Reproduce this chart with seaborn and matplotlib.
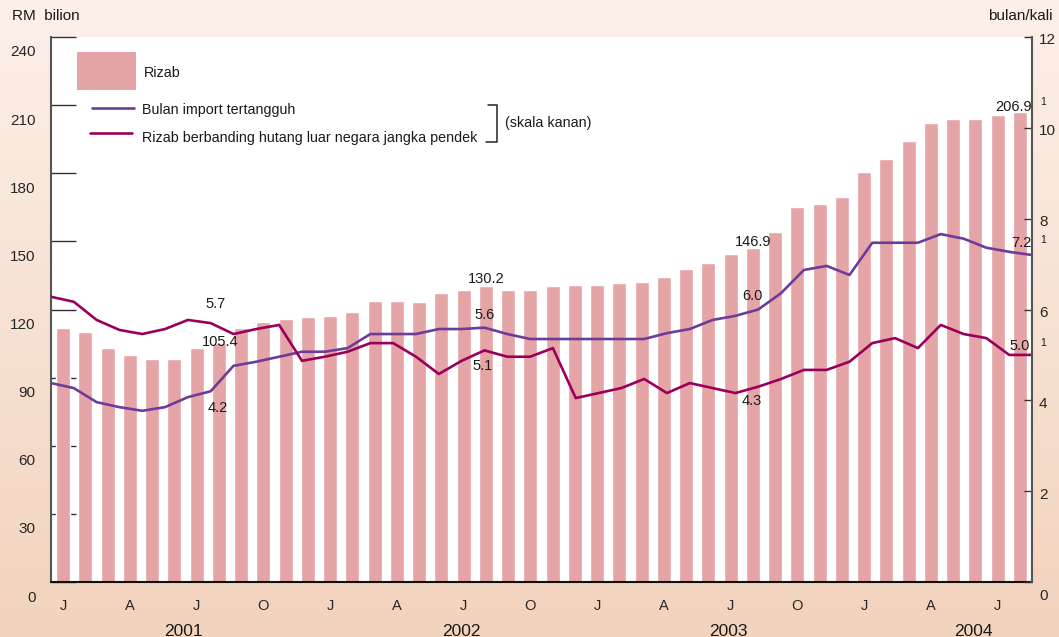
import matplotlib
matplotlib.use("Agg")
import matplotlib.pyplot as plt
import matplotlib.transforms as mtransforms
from matplotlib.patches import Rectangle
import numpy as np
import seaborn as sns

# data: Jan 2001 - Aug 2004, monthly
month_idx = list(range(44))
reserves = [112, 110, 103, 100, 98.2, 98.2, 103, 105.4, 112, 114.5, 116, 116.7,
            117, 119, 123.8, 123.8, 123.3, 127.3, 128.6, 130.2, 128.6, 128.6, 130.4, 130.8,
            130.8, 131.7, 132.2, 134.4, 137.9, 140.5, 144.5, 146.9, 154.2, 165.2, 166.5, 169.6,
            180.6, 186.3, 194.3, 202.2, 204, 204, 205.7, 206.9]
import_cover = [4.38, 4.27, 3.96, 3.85, 3.77, 3.85, 4.07, 4.2, 4.76, 4.85, 4.96, 5.07,
                5.07, 5.15, 5.46, 5.46, 5.46, 5.57, 5.57, 5.6, 5.46, 5.35, 5.35, 5.35,
                5.35, 5.35, 5.35, 5.48, 5.57, 5.77, 5.86, 6.0, 6.36, 6.87, 6.96, 6.76,
                7.47, 7.47, 7.47, 7.66, 7.56, 7.36, 7.27, 7.2]
reserve_debt = [6.28, 6.17, 5.77, 5.55, 5.46, 5.57, 5.77, 5.7, 5.46, 5.57, 5.66, 4.87,
                4.96, 5.07, 5.26, 5.26, 4.96, 4.58, 4.87, 5.1, 4.96, 4.96, 5.15, 4.05,
                4.16, 4.27, 4.47, 4.16, 4.38, 4.27, 4.16, 4.3, 4.47, 4.67, 4.67, 4.85,
                5.26, 5.37, 5.15, 5.66, 5.46, 5.37, 5.0, 5.0]
month_ticks = [0, 3, 6, 9, 12, 15, 18, 21, 24, 27, 30, 33, 36, 39, 42]
month_labels = ["J", "A", "J", "O", "J", "A", "J", "O", "J", "A", "J", "O", "J", "A", "J"]
years = ["2001", "2002", "2003", "2004"]
left_ticks = [0, 30, 60, 90, 120, 150, 180, 210, 240]
right_ticks = [0, 2, 4, 6, 8, 10, 12]
legend_labels = ["Rizab", "Bulan import tertangguh",
                 "Rizab berbanding hutang luar negara jangka pendek"]

BAR = "#e5a4a5"
PURPLE = "#6d3c98"
MAGENTA = "#98005c"

sns.set_style("ticks")
plt.rcParams["font.family"] = ["Liberation Sans", "DejaVu Sans"]
plt.rcParams["text.color"] = "#1a1a1a"

W, H = 1059, 637
fig = plt.figure(figsize=(W / 100, H / 100), dpi=100)

# peach gradient background
bg = fig.add_axes([0, 0, 1, 1], zorder=-5)
top = np.array([252, 240, 233]) / 255
bot = np.array([242, 211, 189]) / 255
t = np.linspace(0, 1, 256)[:, None]
grad = top[None, None, :] * (1 - t[..., None]) + bot[None, None, :] * t[..., None]
bg.imshow(np.repeat(grad, 2, axis=1), aspect="auto", extent=[0, 1, 0, 1])
bg.axis("off")

L, R, T, B = 51, 1032, 37, 582
rect = [L / W, 1 - B / H, (R - L) / W, (B - T) / H]
ax = fig.add_axes(rect)
ax.set_facecolor("white")

sns.barplot(x=month_idx, y=reserves, color=BAR, width=0.63, saturation=1, ax=ax)
ax.set_xlim(-0.54, 43.54)
ax.set_ylim(0, 240)
ax.set_yticks(left_ticks)
ax.set_xticks(month_ticks)
ax.set_xticklabels(month_labels)
ax.tick_params(axis="x", length=0, pad=12, labelsize=10.5)
ax.tick_params(axis="y", direction="in", length=18, width=1, color="#333333",
               pad=11, labelsize=11)
off = mtransforms.ScaledTranslation(0, -14 / 100, fig.dpi_scale_trans)
for lab in ax.get_yticklabels():
    lab.set_transform(lab.get_transform() + off)
for s in ["top", "right"]:
    ax.spines[s].set_visible(False)
ax.spines["left"].set_color("#555555")
ax.spines["left"].set_linewidth(1.5)
ax.spines["bottom"].set_color("#111111")
ax.spines["bottom"].set_linewidth(1.5)
ax.set_xlabel("")
ax.set_ylabel("")

year_x = [5.4, 17.9, 29.9, 40.9]
ytr = mtransforms.blended_transform_factory(ax.transData, ax.transAxes)
for xp, yr in zip(year_x, years):
    ax.text(xp, -0.09, yr, transform=ytr, ha="center", va="center", fontsize=12.5)

# bar annotations
ax.annotate("105.4", (7, reserves[7]), xytext=(1, 1), textcoords="offset pixels",
            ha="center", va="center", fontsize=10.5)
ax.annotate("130.2", (19, reserves[19]), xytext=(0, 7), textcoords="offset pixels",
            ha="center", va="center", fontsize=10.5)
ax.annotate("146.9", (31, reserves[31]), xytext=(0, 6), textcoords="offset pixels",
            ha="center", va="center", fontsize=10.5)
ax.annotate("206.9", (43, reserves[43]), xytext=(-6, 5), textcoords="offset pixels",
            ha="center", va="center", fontsize=10.5)

# overlay axes for the lines (right scale)
ax2 = fig.add_axes(rect, facecolor="none")
sns.lineplot(x=month_idx, y=import_cover, color=PURPLE, lw=1.9, ax=ax2)
sns.lineplot(x=month_idx, y=reserve_debt, color=MAGENTA, lw=1.9, ax=ax2)
ax2.set_xlim(0, 43)
ax2.set_ylim(0, 12)
ax2.xaxis.set_visible(False)
ax2.yaxis.tick_right()
ax2.set_yticks(right_ticks)
ax2.tick_params(axis="y", direction="in", length=6, width=1, color="#333333",
                pad=5, labelsize=11)
for s in ["top", "left", "bottom"]:
    ax2.spines[s].set_visible(False)
ax2.spines["right"].set_color("#555555")
ax2.spines["right"].set_linewidth(1.5)
ax2.set_xlabel("")
ax2.set_ylabel("")
for lab, v in zip(ax2.get_yticklabels(), right_ticks):
    dy = -13 if v == 0 else -2
    lab.set_transform(lab.get_transform()
                      + mtransforms.ScaledTranslation(0, dy / 100, fig.dpi_scale_trans))

def note(txt, x, y, dx, dy):
    ax2.annotate(txt, (x, y), xytext=(dx, dy), textcoords="offset pixels",
                 ha="center", va="center", fontsize=10.5, annotation_clip=False)

note("5.7", 7, reserve_debt[7], 5, 19)
note("4.2", 7, import_cover[7], 7, -17)
note("5.6", 19, import_cover[19], 0, 13)
note("5.1", 19, reserve_debt[19], -2, -16)
note("6.0", 31, import_cover[31], -6, 13)
note("4.3", 31, reserve_debt[31], -6, -14)
note("7.2", 43, import_cover[43], -11, 12)
note("5.0", 43, reserve_debt[43], -12, 9)

# footnote markers
for py in [102, 240, 343]:
    fig.text(1043 / W, 1 - py / H, "1", fontsize=7.5, ha="center", va="center")

# legend drawn by hand
def ax_xy(px, py):
    return (px - L) / (R - L), (B - py) / (B - T)

x0, y0 = ax_xy(77, 90)
ax2.add_patch(Rectangle((x0, y0), 59 / (R - L), 38 / (B - T), transform=ax2.transAxes,
                        facecolor=BAR, edgecolor="none"))
ax2.text(*ax_xy(144, 73), legend_labels[0], transform=ax2.transAxes, va="center",
         fontsize=10.3)
xa, ya = ax_xy(92, 108)
xb, _ = ax_xy(134, 108)
ax2.plot([xa, xb], [ya, ya], color=PURPLE, lw=1.9, transform=ax2.transAxes)
ax2.text(*ax_xy(142, 110), legend_labels[1], transform=ax2.transAxes, va="center",
         fontsize=10.3)
xa, ya = ax_xy(90, 133)
xb, _ = ax_xy(132, 133)
ax2.plot([xa, xb], [ya, ya], color=MAGENTA, lw=1.9, transform=ax2.transAxes)
ax2.text(*ax_xy(142, 138), legend_labels[2], transform=ax2.transAxes, va="center",
         fontsize=10.3)
bx = [ax_xy(488, 105), ax_xy(497, 105), ax_xy(497, 142), ax_xy(486, 142)]
ax2.plot([p[0] for p in bx], [p[1] for p in bx], color="#222222", lw=1.1,
         transform=ax2.transAxes)
ax2.text(*ax_xy(505, 123), "(skala kanan)", transform=ax2.transAxes, va="center",
         fontsize=10.3)

fig.text(12 / W, 1 - 16 / H, "RM  bilion", fontsize=11, va="center", ha="left")
fig.text(1053 / W, 1 - 16 / H, "bulan/kali", fontsize=11, va="center", ha="right")

fig.savefig("out.png", dpi=100)
